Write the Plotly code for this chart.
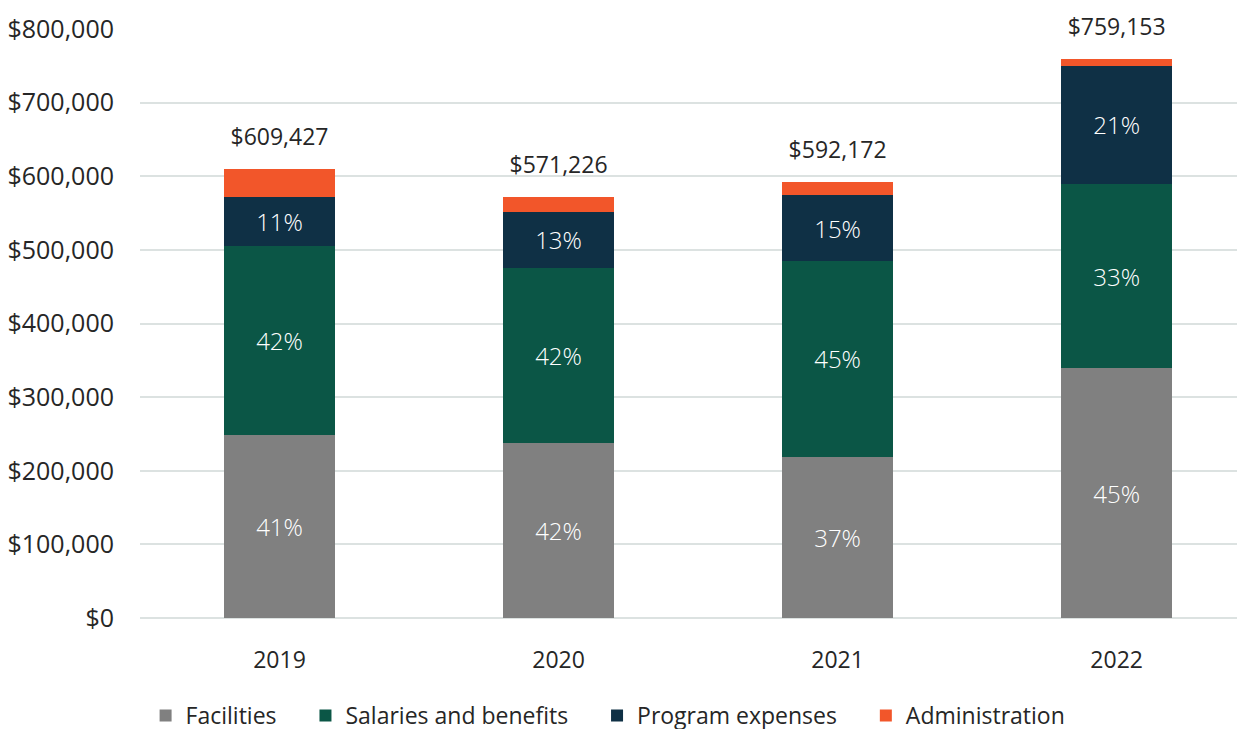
import plotly.graph_objects as go

years = ["2019", "2020", "2021", "2022"]
facilities = [248000, 238000, 219000, 339000]
salaries = [257000, 238000, 266000, 251000]
program = [67000, 75000, 89000, 160000]
admin = [37427, 21226, 18172, 9153]
totals = [609427, 571226, 592172, 759153]
y_ticks = [0, 100000, 200000, 300000, 400000, 500000, 600000, 700000, 800000]

FONT = "Open Sans, Noto Sans, sans-serif"
PAD = "\u00a0" * 4

def pct(vals):
    return [f"{round(v / t * 100)}%" for v, t in zip(vals, totals)]

series = [
    ("Facilities" + PAD, facilities, "#808080", True),
    ("Salaries and benefits" + PAD, salaries, "#0b5646", True),
    ("Program expenses" + PAD, program, "#0f3045", True),
    ("Administration", admin, "#f2562a", False),
]

fig = go.Figure()
for name, vals, color, show_text in series:
    fig.add_trace(go.Bar(
        x=years, y=vals, name=name,
        marker=dict(color=color, line=dict(width=0)),
        width=0.40,
        text=pct(vals) if show_text else None,
        textposition="inside" if show_text else "none",
        insidetextanchor="middle",
        textangle=0,
        textfont=dict(color="white", size=24, family=FONT, weight=300),
        hoverinfo="x+y+name",
    ))

fig.add_trace(go.Scatter(
    x=years, y=totals, mode="markers+text",
    text=[f"${t:,.0f}" for t in totals],
    textposition="top center",
    marker=dict(size=28, opacity=0, color="white"),
    textfont=dict(size=23, color="#262626", family=FONT),
    showlegend=False, cliponaxis=False, hoverinfo="skip",
))

fig.update_layout(
    barmode="stack",
    width=1245, height=729,
    margin=dict(l=132, r=8, t=21, b=119, autoexpand=False),
    plot_bgcolor="white", paper_bgcolor="white",
    font=dict(family=FONT, size=23, color="#262626"),
    showlegend=True,
    legend=dict(
        orientation="h", xref="container", yref="container",
        x=0.482, xanchor="center", y=-0.001, yanchor="bottom",
        font=dict(size=23, color="#262626", family=FONT),
        traceorder="normal", itemsizing="constant",
    ),
    xaxis=dict(
        type="category", automargin=False,
        range=[-0.5, 3.46], showgrid=False, showline=False,
        ticks="", tickfont=dict(size=23, color="#262626"),
        ticklabelstandoff=26,
    ),
    yaxis=dict(
        automargin=False,
        range=[0, 800000], tickvals=y_ticks,
        ticktext=[f"${v:,.0f}" for v in y_ticks],
        showgrid=True, gridcolor="#dce2e1", gridwidth=2,
        zeroline=True, zerolinecolor="#dce2e1", zerolinewidth=2,
        showline=False, ticks="", ticklabelstandoff=25,
        tickfont=dict(size=25, color="#262626"),
    ),
)

fig.write_html("out.html")
